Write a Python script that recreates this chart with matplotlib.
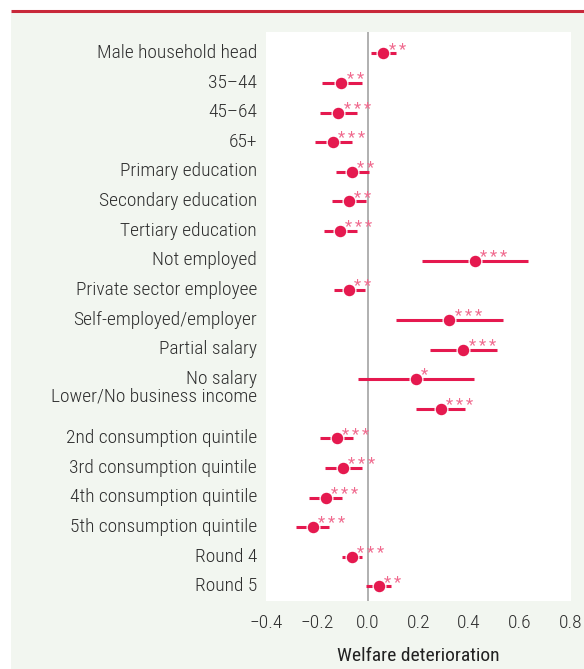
import matplotlib
matplotlib.use("Agg")
import matplotlib.pyplot as plt
from matplotlib import font_manager
import numpy as np
from matplotlib.lines import Line2D
from matplotlib.patches import Rectangle

# Coefficients with confidence intervals for welfare deterioration
labels = ["Male household head", "35–44", "45–64", "65+",
          "Primary education", "Secondary education", "Tertiary education",
          "Not employed", "Private sector employee", "Self-employed/employer",
          "Partial salary", "No salary", "Lower/No business income",
          "2nd consumption quintile", "3rd consumption quintile",
          "4th consumption quintile", "5th consumption quintile",
          "Round 4", "Round 5"]
coef = [0.063, -0.103, -0.115, -0.135, -0.061, -0.073, -0.108, 0.422, -0.073,
        0.323, 0.378, 0.190, 0.288, -0.122, -0.096, -0.165, -0.215, -0.061, 0.044]
lower = [0.013, -0.181, -0.186, -0.206, -0.125, -0.139, -0.173, 0.213, -0.133,
         0.114, 0.246, -0.038, 0.193, -0.189, -0.169, -0.230, -0.280, -0.102, -0.004]
upper = [0.114, -0.023, -0.041, -0.061, 0.007, -0.007, -0.042, 0.632, -0.011,
         0.533, 0.512, 0.420, 0.383, -0.057, -0.023, -0.100, -0.150, -0.021, 0.091]
stars = ["**", "**", "***", "***", "**", "**", "***", "***", "**", "***", "***",
         "*", "***", "***", "***", "***", "***", "***", "**"]
xticks = [-0.4, -0.2, 0.0, 0.2, 0.4, 0.6, 0.8]
xlabel = "Welfare deterioration"

installed = {f.name for f in font_manager.fontManager.ttflist}
narrow = next((f for f in ['Liberation Sans Narrow', 'Roboto Condensed',
                           'Open Sans Condensed', 'DejaVu Sans Condensed']
               if f in installed), None)
if narrow is not None:
    plt.rcParams['font.family'] = [narrow, 'DejaVu Sans']
    size_scale = 1.0
else:
    plt.rcParams['font.family'] = ['Liberation Sans', 'DejaVu Sans']
    size_scale = 0.85

RED = '#e5194f'
STAR = '#f06a8e'
TXT = '#2e2e2e'

fig = plt.figure(figsize=(5.84, 6.69), dpi=100, facecolor='white')
W, H = 584, 669
# panel background and top rule
fig.patches.append(Rectangle((11 / W, 0), 1 - 11 / W, 1 - 12.5 / H,
                             transform=fig.transFigure, facecolor='#f2f6f0',
                             edgecolor='none', zorder=-10))
fig.lines.append(Line2D([11 / W, 1], [1 - 11.3 / H] * 2, transform=fig.transFigure,
                        color='#c8283a', lw=2.2, solid_capstyle='butt', zorder=-5))

ax = fig.add_axes([266 / W, 1 - 601 / H, 304.5 / W, 569 / H])
ax.set_zorder(1)
ax.set_facecolor('white')
for s in ax.spines.values():
    s.set_visible(False)

n = len(labels)
rows = np.arange(n)
ax.axvline(0, color='#b0b0b0', lw=1.4, zorder=1)
ax.hlines(rows, lower, upper, color=RED, lw=2.2, capstyle='butt', zorder=2)
ax.plot(coef, rows, 'o', ms=9.2, mfc=RED, mec='white', mew=0.9, zorder=3)

for v, r, s in zip(coef, rows, stars):
    for k in range(len(s)):
        ax.annotate('*', xy=(v, r), xytext=(3.6 + k * 7.2, -0.2),
                    textcoords='offset points', ha='left', va='baseline',
                    fontsize=12, color=STAR, zorder=4)

label_pos = rows.astype(float) - 0.08
label_pos[12] -= 0.40
ax.set_yticks(label_pos)
ax.set_yticklabels(labels, fontsize=14 * size_scale, color=TXT,
                   fontweight='light')
ax.set_ylim(18.49, -0.72)
ax.set_xlim(-0.4, 0.8)
ax.set_xticks(xticks)
ax.set_xticklabels([f"{t:.1f}".replace('-', '\u2212') for t in xticks],
                   fontsize=14 * size_scale, color=TXT, fontweight='light')
ax.tick_params(axis='both', length=0)
ax.tick_params(axis='y', pad=6.5)
ax.tick_params(axis='x', pad=9)
ax.set_xlabel(xlabel, fontsize=14 * size_scale, color='#222222', labelpad=11)

fig.savefig('out.png', dpi=100, facecolor=fig.get_facecolor())
